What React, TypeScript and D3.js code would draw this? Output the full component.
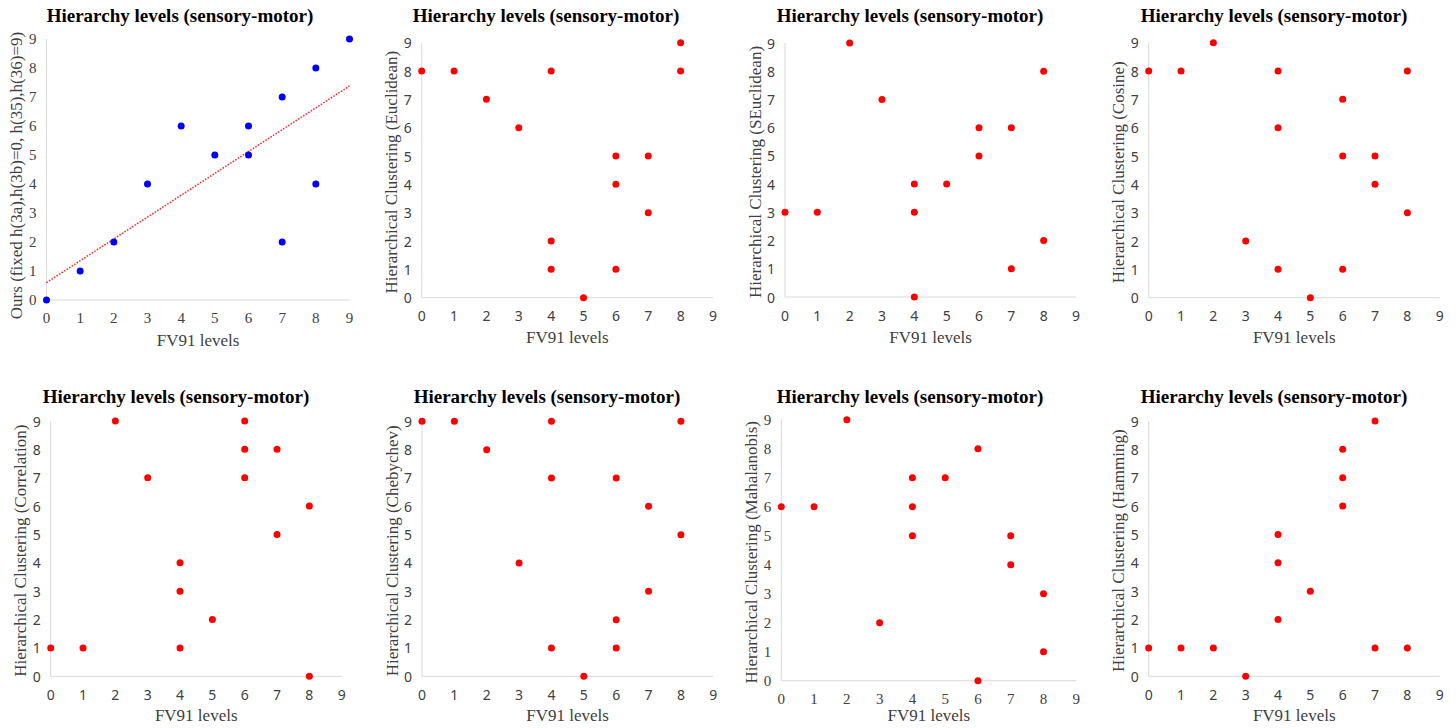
import React, { useEffect, useRef } from 'react';
import * as d3 from 'd3';

// Shared labels
const chartTitle = 'Hierarchy levels (sensory-motor)';
const xTitle = 'FV91 levels';
const tickValues = [0, 1, 2, 3, 4, 5, 6, 7, 8, 9];

// Panel 1: ours vs FV91
const fv91Ours = [0, 1, 2, 3, 4, 5, 6, 6, 7, 7, 8, 8, 9];
const oursLevels = [0, 1, 2, 4, 6, 5, 6, 5, 7, 2, 8, 4, 9];
const trendX = [0, 9];
const trendY = [0.6, 7.38];

// Hierarchical clustering panels
const fv91Euclidean = [0, 1, 2, 3, 4, 4, 4, 5, 6, 6, 6, 7, 7, 8, 8];
const euclidean = [8, 8, 7, 6, 8, 2, 1, 0, 5, 4, 1, 5, 3, 9, 8];

const fv91SEuclidean = [0, 1, 2, 3, 4, 4, 4, 5, 6, 6, 7, 7, 8, 8];
const sEuclidean = [3, 3, 9, 7, 4, 3, 0, 4, 6, 5, 6, 1, 8, 2];

const fv91Cosine = [0, 1, 2, 3, 4, 4, 4, 5, 6, 6, 6, 7, 7, 8, 8];
const cosine = [8, 8, 9, 2, 8, 6, 1, 0, 7, 5, 1, 5, 4, 8, 3];

const fv91Correlation = [0, 1, 2, 3, 4, 4, 4, 5, 6, 6, 6, 7, 7, 8, 8];
const correlation = [1, 1, 9, 7, 4, 3, 1, 2, 9, 8, 7, 8, 5, 6, 0];

const fv91Chebychev = [0, 1, 2, 3, 4, 4, 4, 5, 6, 6, 6, 7, 7, 8, 8];
const chebychev = [9, 9, 8, 4, 9, 7, 1, 0, 7, 2, 1, 6, 3, 9, 5];

const fv91Mahalanobis = [0, 1, 2, 3, 4, 4, 4, 5, 6, 6, 7, 7, 8, 8];
const mahalanobis = [6, 6, 9, 2, 7, 6, 5, 7, 8, 0, 5, 4, 3, 1];

const fv91Hamming = [0, 1, 2, 3, 4, 4, 4, 5, 6, 6, 6, 7, 7, 8];
const hamming = [1, 1, 1, 0, 5, 4, 2, 3, 8, 7, 6, 9, 1, 1];

const yTitles = [
  'Ours (fixed h(3a),h(3b)=0, h(35),h(36)=9)',
  'Hierarchical Clustering (Euclidean)',
  'Hierarchical Clustering (SEuclidean)',
  'Hierarchical Clustering (Cosine)',
  'Hierarchical Clustering (Correlation)',
  'Hierarchical Clustering (Chebychev)',
  'Hierarchical Clustering (Mahalanobis)',
  'Hierarchical Clustering (Hamming)',
];
const xSeries = [fv91Ours, fv91Euclidean, fv91SEuclidean, fv91Cosine, fv91Correlation, fv91Chebychev, fv91Mahalanobis, fv91Hamming];
const ySeries = [oursLevels, euclidean, sEuclidean, cosine, correlation, chebychev, mahalanobis, hamming];

const SERIF = '"Liberation Serif", "Times New Roman", serif';
const SANS = '"Noto Sans", "DejaVu Sans", sans-serif';

// Plot boxes (pixel positions of value 0 and 9 on each axis)
const layout = [
  { x0: 46.5, x9: 349.5, y0: 300, y9: 39, titleX: 180, titleY: 22, tickFont: SERIF, tickSize: 15, xTitleGap: 40 },
  { x0: 421.7, x9: 713, y0: 297.7, y9: 42.7, titleX: 546, titleY: 22, tickFont: SANS, tickSize: 14, xTitleGap: 40 },
  { x0: 785, x9: 1076, y0: 297, y9: 43, titleX: 910, titleY: 22, tickFont: SANS, tickSize: 14, xTitleGap: 40 },
  { x0: 1148.7, x9: 1439.7, y0: 297.7, y9: 42.7, titleX: 1274, titleY: 22, tickFont: SANS, tickSize: 14, xTitleGap: 40 },
  { x0: 50.7, x9: 341.7, y0: 676.3, y9: 421, titleX: 176, titleY: 403, tickFont: SANS, tickSize: 14, xTitleGap: 39 },
  { x0: 422, x9: 713.3, y0: 676.3, y9: 421.3, titleX: 547, titleY: 403, tickFont: SANS, tickSize: 14, xTitleGap: 39 },
  { x0: 781.3, x9: 1076.3, y0: 680.7, y9: 419.7, titleX: 910, titleY: 403, tickFont: SERIF, tickSize: 15, xTitleGap: 35 },
  { x0: 1148.7, x9: 1439.7, y0: 676.3, y9: 421, titleX: 1274, titleY: 403, tickFont: SANS, tickSize: 14, xTitleGap: 39 },
];

const App = () => {
  const svgRef = useRef<SVGSVGElement | null>(null);

  useEffect(() => {
    const width = 1456;
    const height = 728;
    const svg = d3.select(svgRef.current)
      .attr('width', width)
      .attr('height', height)
      .attr('viewBox', `0 0 ${width} ${height}`);
    svg.selectAll('*').remove();
    svg.append('rect').attr('width', width).attr('height', height).attr('fill', '#fff');

    layout.forEach((L, i) => {
      const x = d3.scaleLinear().domain([0, 9]).range([L.x0, L.x9]);
      const y = d3.scaleLinear().domain([0, 9]).range([L.y0, L.y9]);
      const g = svg.append('g');

      // title
      g.append('text')
        .attr('x', L.titleX)
        .attr('y', L.titleY)
        .attr('text-anchor', 'middle')
        .attr('font-family', SERIF)
        .attr('font-weight', 'bold')
        .attr('font-size', 19)
        .attr('fill', '#000')
        .text(chartTitle);

      // axis lines
      g.append('line')
        .attr('x1', x(0)).attr('x2', x(9))
        .attr('y1', y(0)).attr('y2', y(0))
        .attr('stroke', '#d9d9d9').attr('stroke-width', 1);
      g.append('line')
        .attr('x1', x(0)).attr('x2', x(0))
        .attr('y1', y(0)).attr('y2', y(9))
        .attr('stroke', '#d9d9d9').attr('stroke-width', 1);

      // tick labels
      g.selectAll('.xt')
        .data(tickValues)
        .join('text')
        .attr('x', d => x(d))
        .attr('y', y(0) + 18)
        .attr('text-anchor', 'middle')
        .attr('dominant-baseline', 'central')
        .attr('font-family', L.tickFont)
        .attr('font-size', L.tickSize)
        .attr('fill', '#404040')
        .text(d => d);
      g.selectAll('.yt')
        .data(tickValues)
        .join('text')
        .attr('x', x(0) - 10)
        .attr('y', d => y(d))
        .attr('text-anchor', 'end')
        .attr('dominant-baseline', 'central')
        .attr('font-family', L.tickFont)
        .attr('font-size', L.tickSize)
        .attr('fill', '#404040')
        .text(d => d);

      // axis titles
      g.append('text')
        .attr('x', (x(0) + x(9)) / 2)
        .attr('y', y(0) + L.xTitleGap)
        .attr('text-anchor', 'middle')
        .attr('dominant-baseline', 'central')
        .attr('font-family', SERIF)
        .attr('font-size', 17)
        .attr('fill', '#404040')
        .text(xTitle);
      g.append('text')
        .attr('transform', `translate(${x(0) - 30},${(y(0) + y(9)) / 2 + (i === 0 ? 6 : 2)}) rotate(-90)`)
        .attr('text-anchor', 'middle')
        .attr('dominant-baseline', 'central')
        .attr('font-family', SERIF)
        .attr('font-size', 17)
        .attr('fill', '#404040')
        .text(yTitles[i]);

      // trend line (first panel only)
      if (i === 0) {
        const line = d3.line<number>()
          .x((_, k) => x(trendX[k]))
          .y(d => y(d));
        g.append('path')
          .datum(trendY)
          .attr('fill', 'none')
          .attr('stroke', '#ff2020')
          .attr('stroke-width', 1.5)
          .attr('stroke-dasharray', '1.5 1.5')
          .attr('d', line);
      }

      // points
      const pts = xSeries[i].map((v, k) => [v, ySeries[i][k]]);
      g.selectAll('circle')
        .data(pts)
        .join('circle')
        .attr('cx', d => x(d[0]))
        .attr('cy', d => y(d[1]))
        .attr('r', 3.5)
        .attr('fill', i === 0 ? '#0000ff' : '#ff0000');
    });
  }, []);

  return (
    <svg ref={svgRef} style={{ position: 'absolute', left: 0, top: 0 }}></svg>
  );
};

export default App;
